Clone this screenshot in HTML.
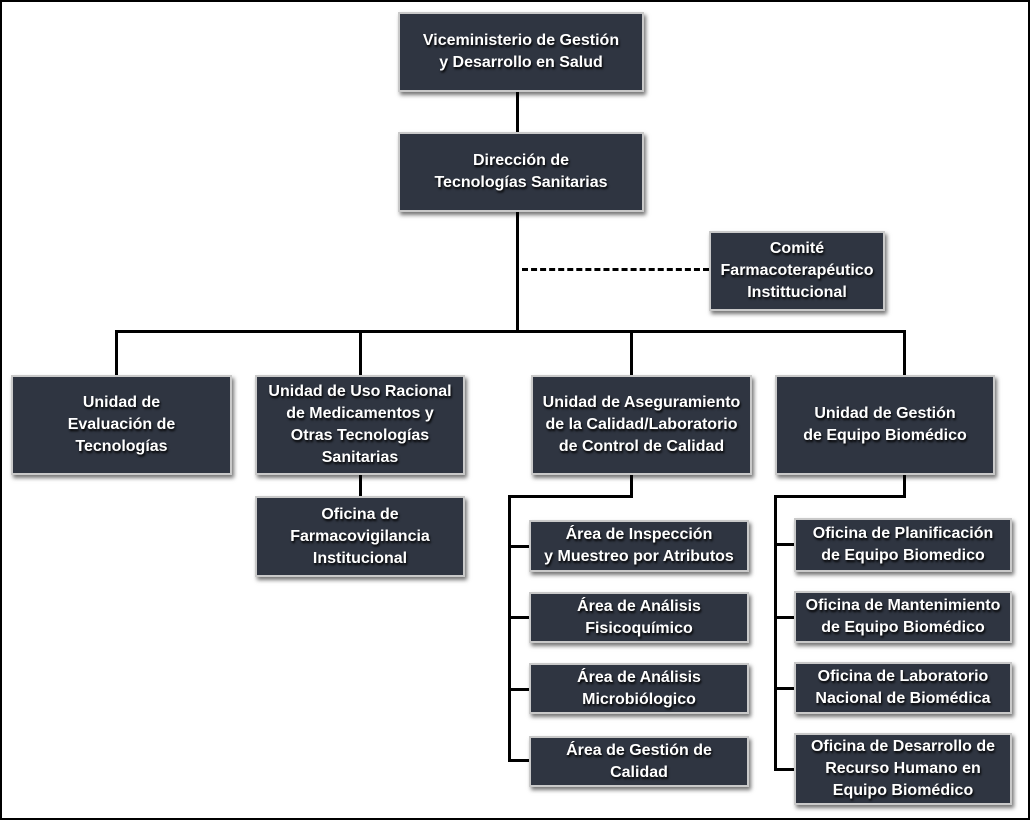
<!DOCTYPE html>
<html><head><meta charset="utf-8"><style>
body{margin:0;background:#fff;}
#c{position:relative;width:1030px;height:820px;background:#fff;overflow:hidden;font-family:"Liberation Sans Narrow","Liberation Sans",sans-serif;}
#f{position:absolute;left:0;top:0;width:1030px;height:820px;box-sizing:border-box;border:2px solid #000;}
.b{position:absolute;box-sizing:border-box;background:#2f3541;border:2px solid #c9c9c9;box-shadow:2px 3px 4px rgba(0,0,0,.55);color:#fff;font-weight:bold;font-size:16px;line-height:22px;display:flex;align-items:center;justify-content:center;text-align:center;text-shadow:1px 2px 2px #000;}
.l{position:absolute;background:#000;}
</style></head><body><div id="c"><div id="f"></div>
<div class="l" style="left:516px;top:90px;width:3px;height:242px"></div>
<div style="position:absolute;left:522px;top:268px;width:187px;border-top:3px dashed #000"></div>
<div class="l" style="left:115px;top:330px;width:791px;height:3px"></div>
<div class="l" style="left:115px;top:330px;width:3px;height:46px"></div>
<div class="l" style="left:359px;top:330px;width:3px;height:46px"></div>
<div class="l" style="left:630px;top:330px;width:3px;height:46px"></div>
<div class="l" style="left:903px;top:330px;width:3px;height:46px"></div>
<div class="l" style="left:359px;top:474px;width:3px;height:23px"></div>
<div class="l" style="left:630px;top:474px;width:3px;height:24px"></div>
<div class="l" style="left:508px;top:495px;width:125px;height:3px"></div>
<div class="l" style="left:508px;top:495px;width:3px;height:267px"></div>
<div class="l" style="left:508px;top:545px;width:22px;height:3px"></div>
<div class="l" style="left:508px;top:616px;width:22px;height:3px"></div>
<div class="l" style="left:508px;top:688px;width:22px;height:3px"></div>
<div class="l" style="left:508px;top:759px;width:22px;height:3px"></div>
<div class="l" style="left:903px;top:474px;width:3px;height:24px"></div>
<div class="l" style="left:774px;top:495px;width:132px;height:3px"></div>
<div class="l" style="left:774px;top:495px;width:3px;height:276px"></div>
<div class="l" style="left:774px;top:543px;width:22px;height:3px"></div>
<div class="l" style="left:774px;top:616px;width:22px;height:3px"></div>
<div class="l" style="left:774px;top:687px;width:22px;height:3px"></div>
<div class="l" style="left:774px;top:768px;width:22px;height:3px"></div>

<div class="b" style="left:398px;top:12px;width:246px;height:80px">Viceministerio de Gestión<br>y Desarrollo en Salud</div>
<div class="b" style="left:398px;top:132px;width:246px;height:80px">Dirección de<br>Tecnologías Sanitarias</div>
<div class="b" style="left:709px;top:231px;width:176px;height:80px">Comité<br>Farmacoterapéutico<br>Instittucional</div>
<div class="b" style="left:11px;top:375px;width:221px;height:100px">Unidad de<br>Evaluación de<br>Tecnologías</div>
<div class="b" style="left:255px;top:375px;width:210px;height:100px">Unidad de Uso Racional<br>de Medicamentos y<br>Otras Tecnologías<br>Sanitarias</div>
<div class="b" style="left:531px;top:375px;width:221px;height:100px">Unidad de Aseguramiento<br>de la Calidad/Laboratorio<br>de Control de Calidad</div>
<div class="b" style="left:775px;top:375px;width:220px;height:100px">Unidad de Gestión<br>de Equipo Biomédico</div>
<div class="b" style="left:255px;top:496px;width:210px;height:81px">Oficina de<br>Farmacovigilancia<br>Institucional</div>
<div class="b" style="left:529px;top:520px;width:220px;height:52px">Área de Inspección<br>y Muestreo por Atributos</div>
<div class="b" style="left:529px;top:592px;width:220px;height:51px">Área de Análisis<br>Fisicoquímico</div>
<div class="b" style="left:529px;top:663px;width:220px;height:51px">Área de Análisis<br>Microbiólogico</div>
<div class="b" style="left:529px;top:736px;width:220px;height:51px">Área de Gestión de<br>Calidad</div>
<div class="b" style="left:794px;top:518px;width:218px;height:54px">Oficina de Planificación<br>de Equipo Biomedico</div>
<div class="b" style="left:794px;top:591px;width:218px;height:52px">Oficina de Mantenimiento<br>de Equipo Biomédico</div>
<div class="b" style="left:794px;top:662px;width:218px;height:52px">Oficina de Laboratorio<br>Nacional de Biomédica</div>
<div class="b" style="left:794px;top:733px;width:218px;height:72px">Oficina de Desarrollo de<br>Recurso Humano en<br>Equipo Biomédico</div>
</div></body></html>
